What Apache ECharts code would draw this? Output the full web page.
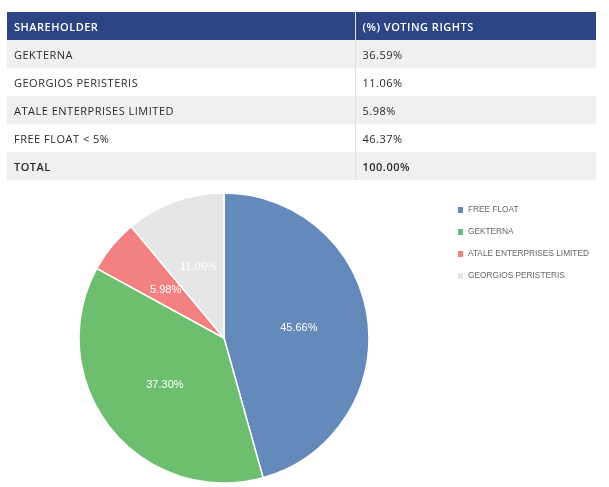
<!DOCTYPE html>
<html><head><meta charset="utf-8">
<script src="https://cdn.jsdelivr.net/npm/echarts@6/dist/echarts.min.js"></script>
<style>
html,body{margin:0;padding:0;background:#fff;}
#wrap{position:relative;width:609px;height:487px;}
#chart{position:absolute;left:0;top:0;width:609px;height:487px;}
table{position:absolute;left:7px;top:12px;width:589px;border-collapse:collapse;font-family:"Open Sans",Lato,sans-serif;font-size:11px;letter-spacing:0.5px;color:#2a2a2a;}
th{background:#2c4483;color:#fff;font-weight:600;text-align:left;height:28px;padding:0 7px;box-sizing:border-box;}
td{height:28px;padding:0 7px;box-sizing:border-box;}
th.c1,td.c1{width:348px;border-right:1px solid #e0e0e0;}
tr:nth-child(odd) td{background:#f0f0f0;}
tr:nth-child(even) td{background:#fff;}
tr.total td{font-weight:600;}
</style></head>
<body><div id="wrap"><div id="chart"></div><table id="tbl"></table></div>
<script>
// Table data
const tableHeaders = ["SHAREHOLDER", "(%) VOTING RIGHTS"];
const tableNames = ["GEKTERNA", "GEORGIOS PERISTERIS", "ATALE ENTERPRISES LIMITED", "FREE FLOAT < 5%", "TOTAL"];
const tableValues = ["36.59%", "11.06%", "5.98%", "46.37%", "100.00%"];

// Pie data
const pieNames = ["FREE FLOAT", "GEKTERNA", "ATALE ENTERPRISES LIMITED", "GEORGIOS PERISTERIS"];
const pieValues = [45.66, 37.30, 5.98, 11.06];
const pieColors = ["#6489bb", "#6dbf6f", "#f38181", "#e6e6e6"];

// Build table
const tbl = document.getElementById('tbl');
let html = '<thead><tr><th class="c1">' + tableHeaders[0] + '</th><th>' + tableHeaders[1] + '</th></tr></thead><tbody>';
tableNames.forEach((n, i) => {
  const cls = i === tableNames.length - 1 ? ' class="total"' : '';
  html += '<tr' + cls + '><td class="c1">' + n.replace('<', '&lt;') + '</td><td>' + tableValues[i] + '</td></tr>';
});
html += '</tbody>';
tbl.innerHTML = html;

const chart = echarts.init(document.getElementById('chart'), null, {renderer: 'canvas'});
chart.setOption({
  animation: false,
  color: pieColors,
  legend: {
    orient: 'vertical',
    left: 456,
    top: 205,
    padding: 0,
    itemWidth: 7,
    itemHeight: 8,
    itemGap: 12,
    icon: 'rect',
    textStyle: {fontSize: 8.3, color: '#666', padding: [0, 0, 0, -1], fontFamily: '"Liberation Sans", Arial, sans-serif'},
    data: pieNames
  },
  series: [{
    type: 'pie',
    center: [224, 338],
    radius: [0, 145],
    startAngle: 90,
    clockwise: true,
    itemStyle: {borderColor: '#fff', borderWidth: 1.5},
    label: {
      show: true,
      position: 'inside',
      color: '#fff',
      fontSize: 11,
      fontFamily: '"Liberation Sans", Arial, sans-serif',
      formatter: p => p.value.toFixed(2) + '%'
    },
    labelLine: {show: false},
    emphasis: {disabled: true},
    data: pieNames.map((n, i) => ({name: n, value: pieValues[i]}))
  }]
});
</script></body></html>
